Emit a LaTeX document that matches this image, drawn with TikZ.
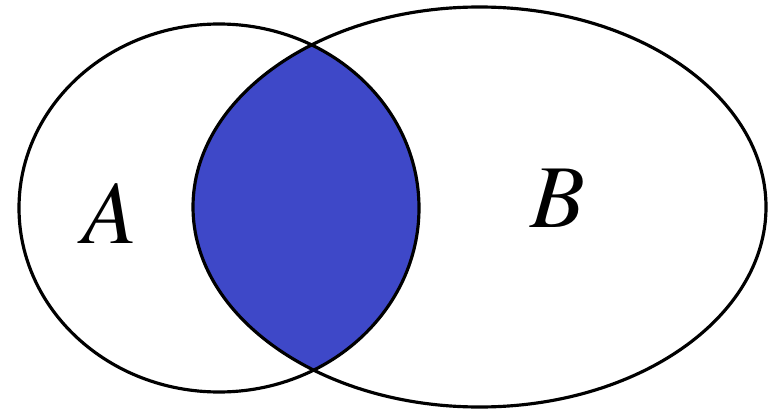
\documentclass[tikz,border=0pt]{standalone}
\usepackage{mathptmx}
\usetikzlibrary{positioning}
\definecolor{vennblue}{RGB}{62, 72, 200}

\begin{document}
\begin{tikzpicture}[line width=1.8pt, font=\fontsize{51}{51}\selectfont]
  \useasboundingbox (0,0) rectangle (15.36,8.22);
  \begin{scope}
    \clip (4.38,4.06) ellipse [x radius=4.00, y radius=3.68];
    \fill[vennblue] (9.59,4.08) ellipse [x radius=5.73, y radius=4.00];
  \end{scope}
  \draw (4.38,4.06) ellipse [x radius=4.00, y radius=3.68];
  \draw (9.59,4.08) ellipse [x radius=5.73, y radius=4.00];
  \node[anchor=base, inner sep=0pt] (lblA) at (2.20,3.36){$A$};
  \node[anchor=base, inner sep=0pt] (lblB) at (11.16,3.68){$B$};
\end{tikzpicture}
\end{document}
